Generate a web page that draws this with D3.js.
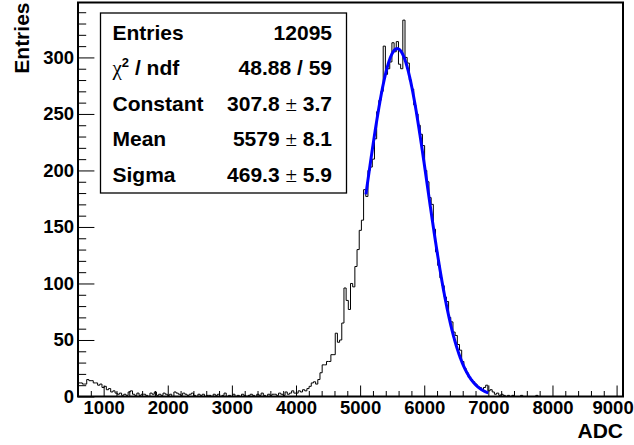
<!DOCTYPE html>
<html><head><meta charset="utf-8">
<script src="https://cdn.jsdelivr.net/npm/d3@7"></script>
<style>body{margin:0;background:#fff}</style>
</head><body>
<svg id="c" width="634" height="445"></svg>
<script>
// ---------- data ----------
const xMajorTicks = [1000, 2000, 3000, 4000, 5000, 6000, 7000, 8000, 9000];
const yMajorTicks = [0, 50, 100, 150, 200, 250, 300];
const xDomain = [600, 9100];
const yDomain = [0, 348.6];
const binLow = 600;
const binWidth = 34;
const counts = [
  12, 12, 11, 11, 15, 14, 14, 12, 12, 10,
  11, 8, 9, 6, 7, 4, 5, 3, 2, 3,
  1, 2, 1, 4, 5, 2, 1, 3, 1, 2,
  2, 1, 0, 3, 2, 4, 1, 2, 1, 3,
  2, 1, 2, 0, 4, 3, 2, 1, 3, 2,
  1, 2, 3, 1, 0, 2, 1, 2, 0, 1,
  1, 0, 2, 1, 2, 0, 1, 3, 0, 1,
  0, 2, 0, 1, 0, 2, 1, 0, 1, 2,
  1, 0, 2, 1, 3, 1, 0, 2, 1, 2,
  2, 1, 3, 2, 1, 4, 2, 3, 5, 3,
  3, 5, 4, 6, 5, 7, 9, 12, 13, 11,
  15, 21, 28, 28, 31, 31, 37, 37, 56, 48,
  50, 65, 96, 85, 77, 100, 97, 115, 130, 147,
  156, 183, 177, 200, 203, 210, 228, 252, 262, 270,
  310, 285, 290, 296, 313, 305, 314, 294, 290, 333,
  300, 295, 280, 272, 258, 250, 240, 232, 222, 200,
  190, 176, 170, 148, 128, 116, 105, 98, 88, 84,
  70, 66, 57, 54, 46, 41, 31, 25, 21, 17,
  15, 13, 11, 9, 8, 6, 8, 10, 5, 6,
  4, 2, 3, 1, 2, 1, 0, 1, 0, 1,
  0, 0, 0, 1, 0, 0, 0, 0, 0, 0,
  1, 0, 0, 0, 0, 0, 0, 0, 0, 0,
  0, 0, 0, 0, 0, 0, 0, 0, 0, 0,
  0, 0, 0, 0, 0, 0, 0, 0, 0, 0,
  0, 0, 0, 0, 0, 0, 0, 0, 0, 0
];
const fitConstant = 307.8;
const fitMean = 5579;
const fitSigma = 469.3;
const fitRange = [5090, 7000];
const statLabels = ["Entries", "chi2", "Constant", "Mean", "Sigma"];
const statValues = ["12095", "48.88 / 59", ["307.8", "3.7"], ["5579", "8.1"], ["469.3", "5.9"]];
const xTitle = "ADC";
const yTitle = "Entries";

// ---------- layout ----------
const L = 78, R = 623, T = 2.5, B = 396.5;
const svg = d3.select("#c");
const x = d3.scaleLinear().domain(xDomain).range([L, R]);
const y = d3.scaleLinear().domain(yDomain).range([B, T]);
const FONT = "'Liberation Sans', Arial, Helvetica, sans-serif";

// minor ticks
const xMinor = d3.range(600, 9100 + 1, 200).filter(v => v % 1000 !== 0);
const yMinor = d3.range(0, 341, 10).filter(v => v % 50 !== 0);

const gx = svg.append("g").attr("transform", `translate(0,${B})`);
gx.call(d3.axisBottom(x).tickValues(xMinor).tickSize(-5.5).tickFormat(""));
gx.call(g => g.select(".domain").remove());
const gx2 = svg.append("g").attr("transform", `translate(0,${B})`);
gx2.call(d3.axisBottom(x).tickValues(xMajorTicks).tickSize(-11).tickPadding(4.7).tickFormat(d3.format("d")));
gx2.select(".domain").remove();
gx2.selectAll("text").attr("font-family", FONT).attr("font-weight", "bold").attr("font-size", "18.5px").attr("fill", "#000")
  .attr("dx", d => d === 9000 ? -4 : 0);

const gy = svg.append("g").attr("transform", `translate(${L},0)`);
gy.call(d3.axisLeft(y).tickValues(yMinor).tickSize(-8.2).tickFormat(""));
gy.select(".domain").remove();
const gy2 = svg.append("g").attr("transform", `translate(${L},0)`);
gy2.call(d3.axisLeft(y).tickValues(yMajorTicks).tickSize(-16.4).tickPadding(4).tickFormat(d3.format("d")));
gy2.select(".domain").remove();
gy2.selectAll("text").attr("font-family", FONT).attr("font-weight", "bold").attr("font-size", "18.5px").attr("fill", "#000");
svg.selectAll(".tick line").attr("stroke", "#000").attr("stroke-width", 1);

// histogram outline
const pts = [[binLow, 0]];
counts.forEach((c, i) => {
  const lo = binLow + i * binWidth, hi = lo + binWidth;
  pts.push([lo, c], [hi, c]);
});
pts.push([binLow + counts.length * binWidth, 0]);
svg.append("path")
  .attr("d", d3.line().x(d => x(d[0])).y(d => y(d[1]))(pts))
  .attr("fill", "none").attr("stroke", "#000").attr("stroke-width", 1);

// fit curve
const fx = d3.range(fitRange[0], fitRange[1] + 0.1, 5);
svg.append("path")
  .attr("d", d3.line().x(v => x(v)).y(v => y(fitConstant * Math.exp(-0.5 * Math.pow((v - fitMean) / fitSigma, 2))))(fx))
  .attr("fill", "none").attr("stroke", "#0000ff").attr("stroke-width", 3);

// frame
svg.append("rect").attr("x", L).attr("y", T).attr("width", R - L).attr("height", B - T)
  .attr("fill", "none").attr("stroke", "#000").attr("stroke-width", 2);

// stat box
svg.append("rect").attr("x", 100.5).attr("y", 13).attr("width", 246).attr("height", 180)
  .attr("fill", "#fff").attr("stroke", "#000").attr("stroke-width", 1.3);
const rowY = [39.5, 75, 110.5, 146, 181.5];
const st = svg.append("g").attr("font-family", FONT).attr("font-weight", "bold").attr("font-size", "21px").attr("fill", "#000");
statLabels.forEach((lab, i) => {
  const t = st.append("text").attr("x", 112.5).attr("y", rowY[i]);
  if (lab === "chi2") {
    t.append("tspan").attr("font-family", "'Liberation Serif', 'DejaVu Serif', serif").attr("font-weight", "normal").text("χ");
    t.append("tspan").attr("font-size", "13px").attr("dy", -8).text("2");
    t.append("tspan").attr("dy", 8).text(" / ndf");
  } else {
    t.text(lab);
  }
  const v = statValues[i];
  const tv = st.append("text").attr("x", 332).attr("y", rowY[i]).attr("text-anchor", "end");
  if (Array.isArray(v)) {
    tv.append("tspan").text(v[0] + " ");
    tv.append("tspan").attr("font-family", "'Liberation Serif', 'DejaVu Serif', serif").attr("font-weight", "normal").text("±");
    tv.append("tspan").text(" " + v[1]);
  } else {
    tv.text(v);
  }
});

// axis titles
svg.append("text").attr("x", R).attr("y", 438).attr("text-anchor", "end")
  .attr("font-family", FONT).attr("font-weight", "bold").attr("font-size", "21px").text(xTitle);
svg.append("text").attr("transform", `translate(29,${T}) rotate(-90)`).attr("text-anchor", "end")
  .attr("font-family", FONT).attr("font-weight", "bold").attr("font-size", "21px").text(yTitle);
</script>
</body></html>
